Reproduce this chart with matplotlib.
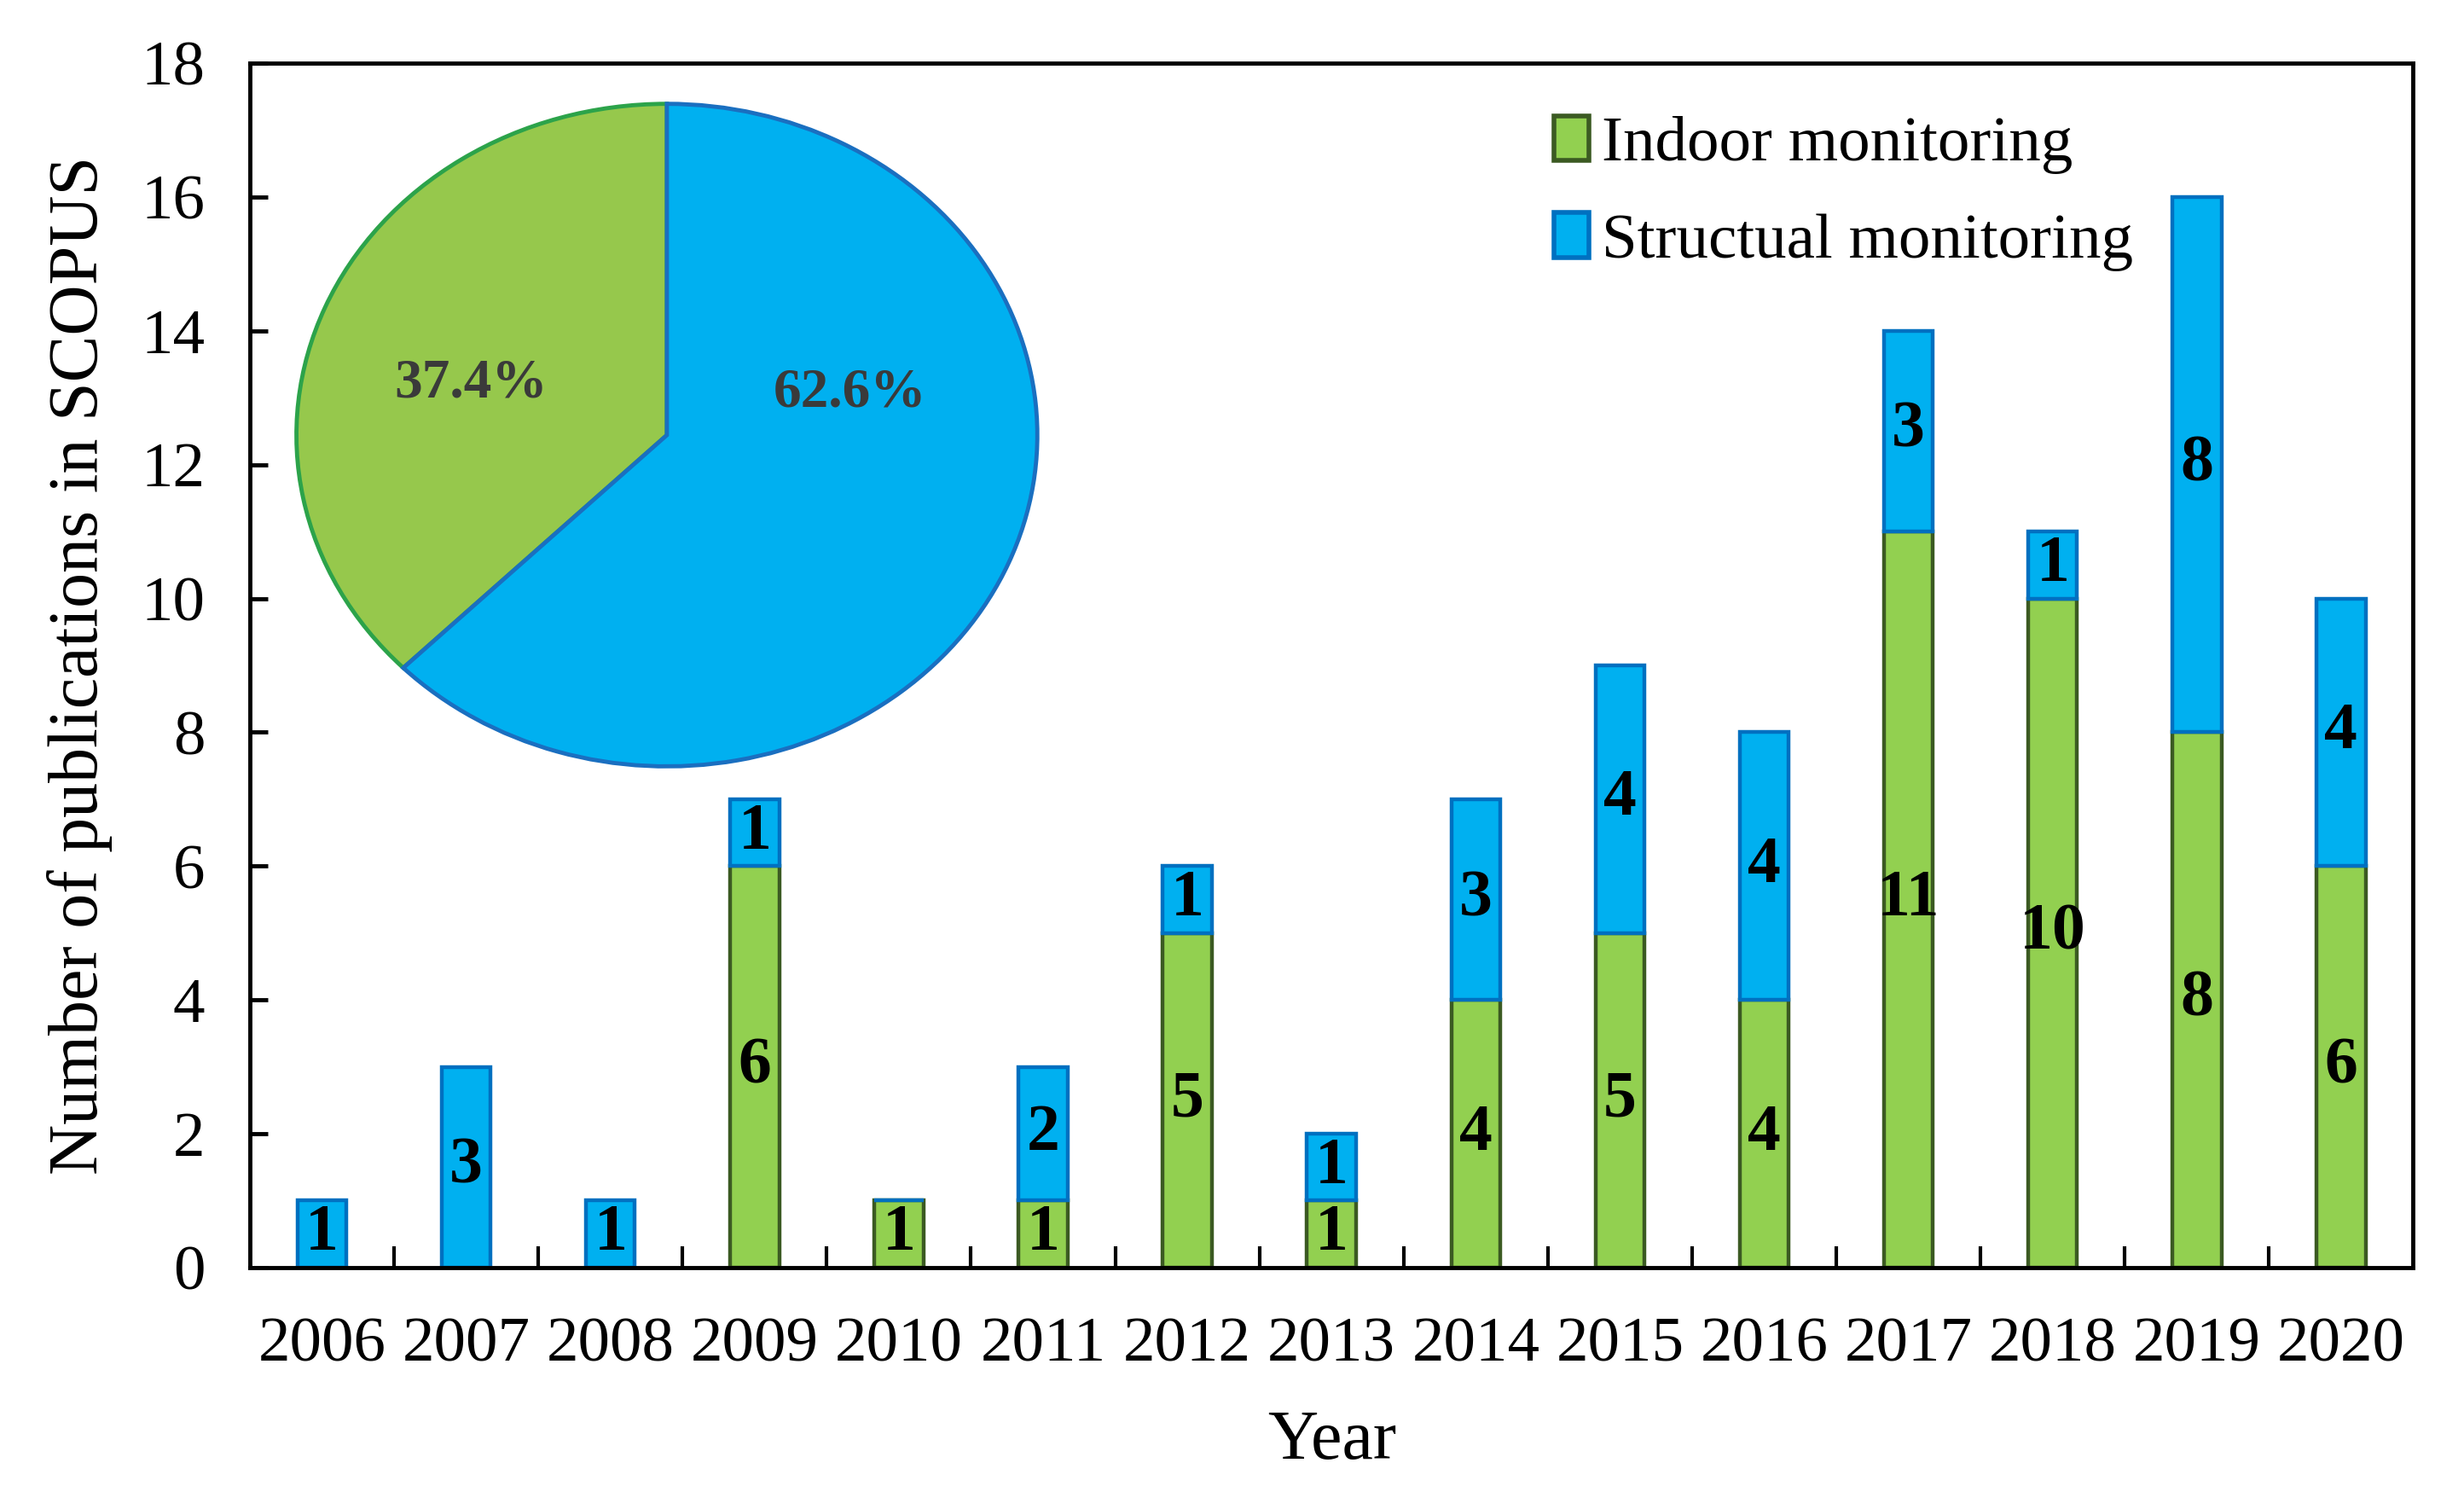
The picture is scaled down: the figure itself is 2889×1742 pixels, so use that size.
import matplotlib
matplotlib.use("Agg")
import matplotlib.pyplot as plt
import numpy as np
from matplotlib.patches import Patch

plt.rcParams['font.family'] = ['Liberation Serif', 'DejaVu Serif']

years = ['2006', '2007', '2008', '2009', '2010', '2011', '2012', '2013',
         '2014', '2015', '2016', '2017', '2018', '2019', '2020']
indoor = [0, 0, 0, 6, 1, 1, 5, 1, 4, 5, 4, 11, 10, 8, 6]
structural = [1, 3, 1, 1, 0, 2, 1, 1, 3, 4, 4, 3, 1, 8, 4]
pie_labels = ['37.4%', '62.6%']
pie_values = [37.4, 62.6]

green_fc = '#92d050'
green_ec = '#3b5a22'
blue_fc = '#00b0f0'
blue_ec = '#0070c0'

fig = plt.figure(figsize=(28.89, 17.42), dpi=100)
ax = fig.add_axes([0.1014, 0.147, 0.878, 0.8105])

x = np.arange(len(years))
w = 0.34
b1 = ax.bar(x, indoor, w, color=green_fc, edgecolor=green_ec, linewidth=3.2, zorder=2)
b2 = ax.bar(x, structural, w, bottom=indoor, color=blue_fc, edgecolor=blue_ec, linewidth=3.2, zorder=2)

for bars, vals in ((b1, indoor), (b2, structural)):
    labs = [str(v) if v > 0 else '' for v in vals]
    ax.bar_label(bars, labels=labs, label_type='center', fontsize=56,
                 fontweight='bold', color='black', zorder=3)

ax.set_xlim(-0.5, len(years) - 0.5)
ax.set_ylim(0, 18)
ax.set_yticks(np.arange(0, 19, 2))
ax.set_xticks(np.arange(0.5, len(years) - 1, 1))
ax.set_xticklabels([])
ax.set_xticks(x, minor=True)
ax.set_xticklabels(years, minor=True)
ax.tick_params(axis='x', which='major', direction='in', length=18, width=3)
ax.tick_params(axis='x', which='minor', length=0, pad=42, labelsize=54)
ax.tick_params(axis='y', direction='in', length=15, width=3.5, pad=38, labelsize=54)
for s in ax.spines.values():
    s.set_linewidth(3.5)

ax.set_xlabel('Year', fontsize=59, labelpad=29)
ax.set_ylabel('Number of publications in SCOPUS', fontsize=59, labelpad=24)

handles = [Patch(facecolor=green_fc, edgecolor=green_ec, linewidth=4),
           Patch(facecolor=blue_fc, edgecolor=blue_ec, linewidth=4)]
leg = fig.legend(handles, ['Indoor monitoring', 'Structual monitoring'],
                 loc='upper left', bbox_to_anchor=(0.6305, 0.922),
                 frameon=False, fontsize=54, borderpad=0, borderaxespad=0,
                 handlelength=0.55, handleheight=0.7, handletextpad=0.2,
                 labelspacing=0.6)

# pie inset
pax = fig.add_axes([0.1185, 0.4816, 0.3043, 0.4512])
wedges, _ = pax.pie(pie_values, colors=['#96c84c', blue_fc], startangle=90,
                    counterclock=True,
                    wedgeprops=dict(linewidth=3.5))
wedges[0].set_edgecolor('#2ca34a')
wedges[1].set_edgecolor('#1a6fc0')
pax.set_aspect('auto')
pax.set_xlim(-1.012, 1.012)
pax.set_ylim(-1.012, 1.012)
pax.axis('off')
pax.text(-0.53, 0.156, pie_labels[0], ha='center', va='center', fontsize=47,
         fontweight='bold', color='#3a3a3a')
pax.text(0.494, 0.127, pie_labels[1], ha='center', va='center', fontsize=47,
         fontweight='bold', color='#3a3a3a')

fig.savefig('out.png', dpi=100)
